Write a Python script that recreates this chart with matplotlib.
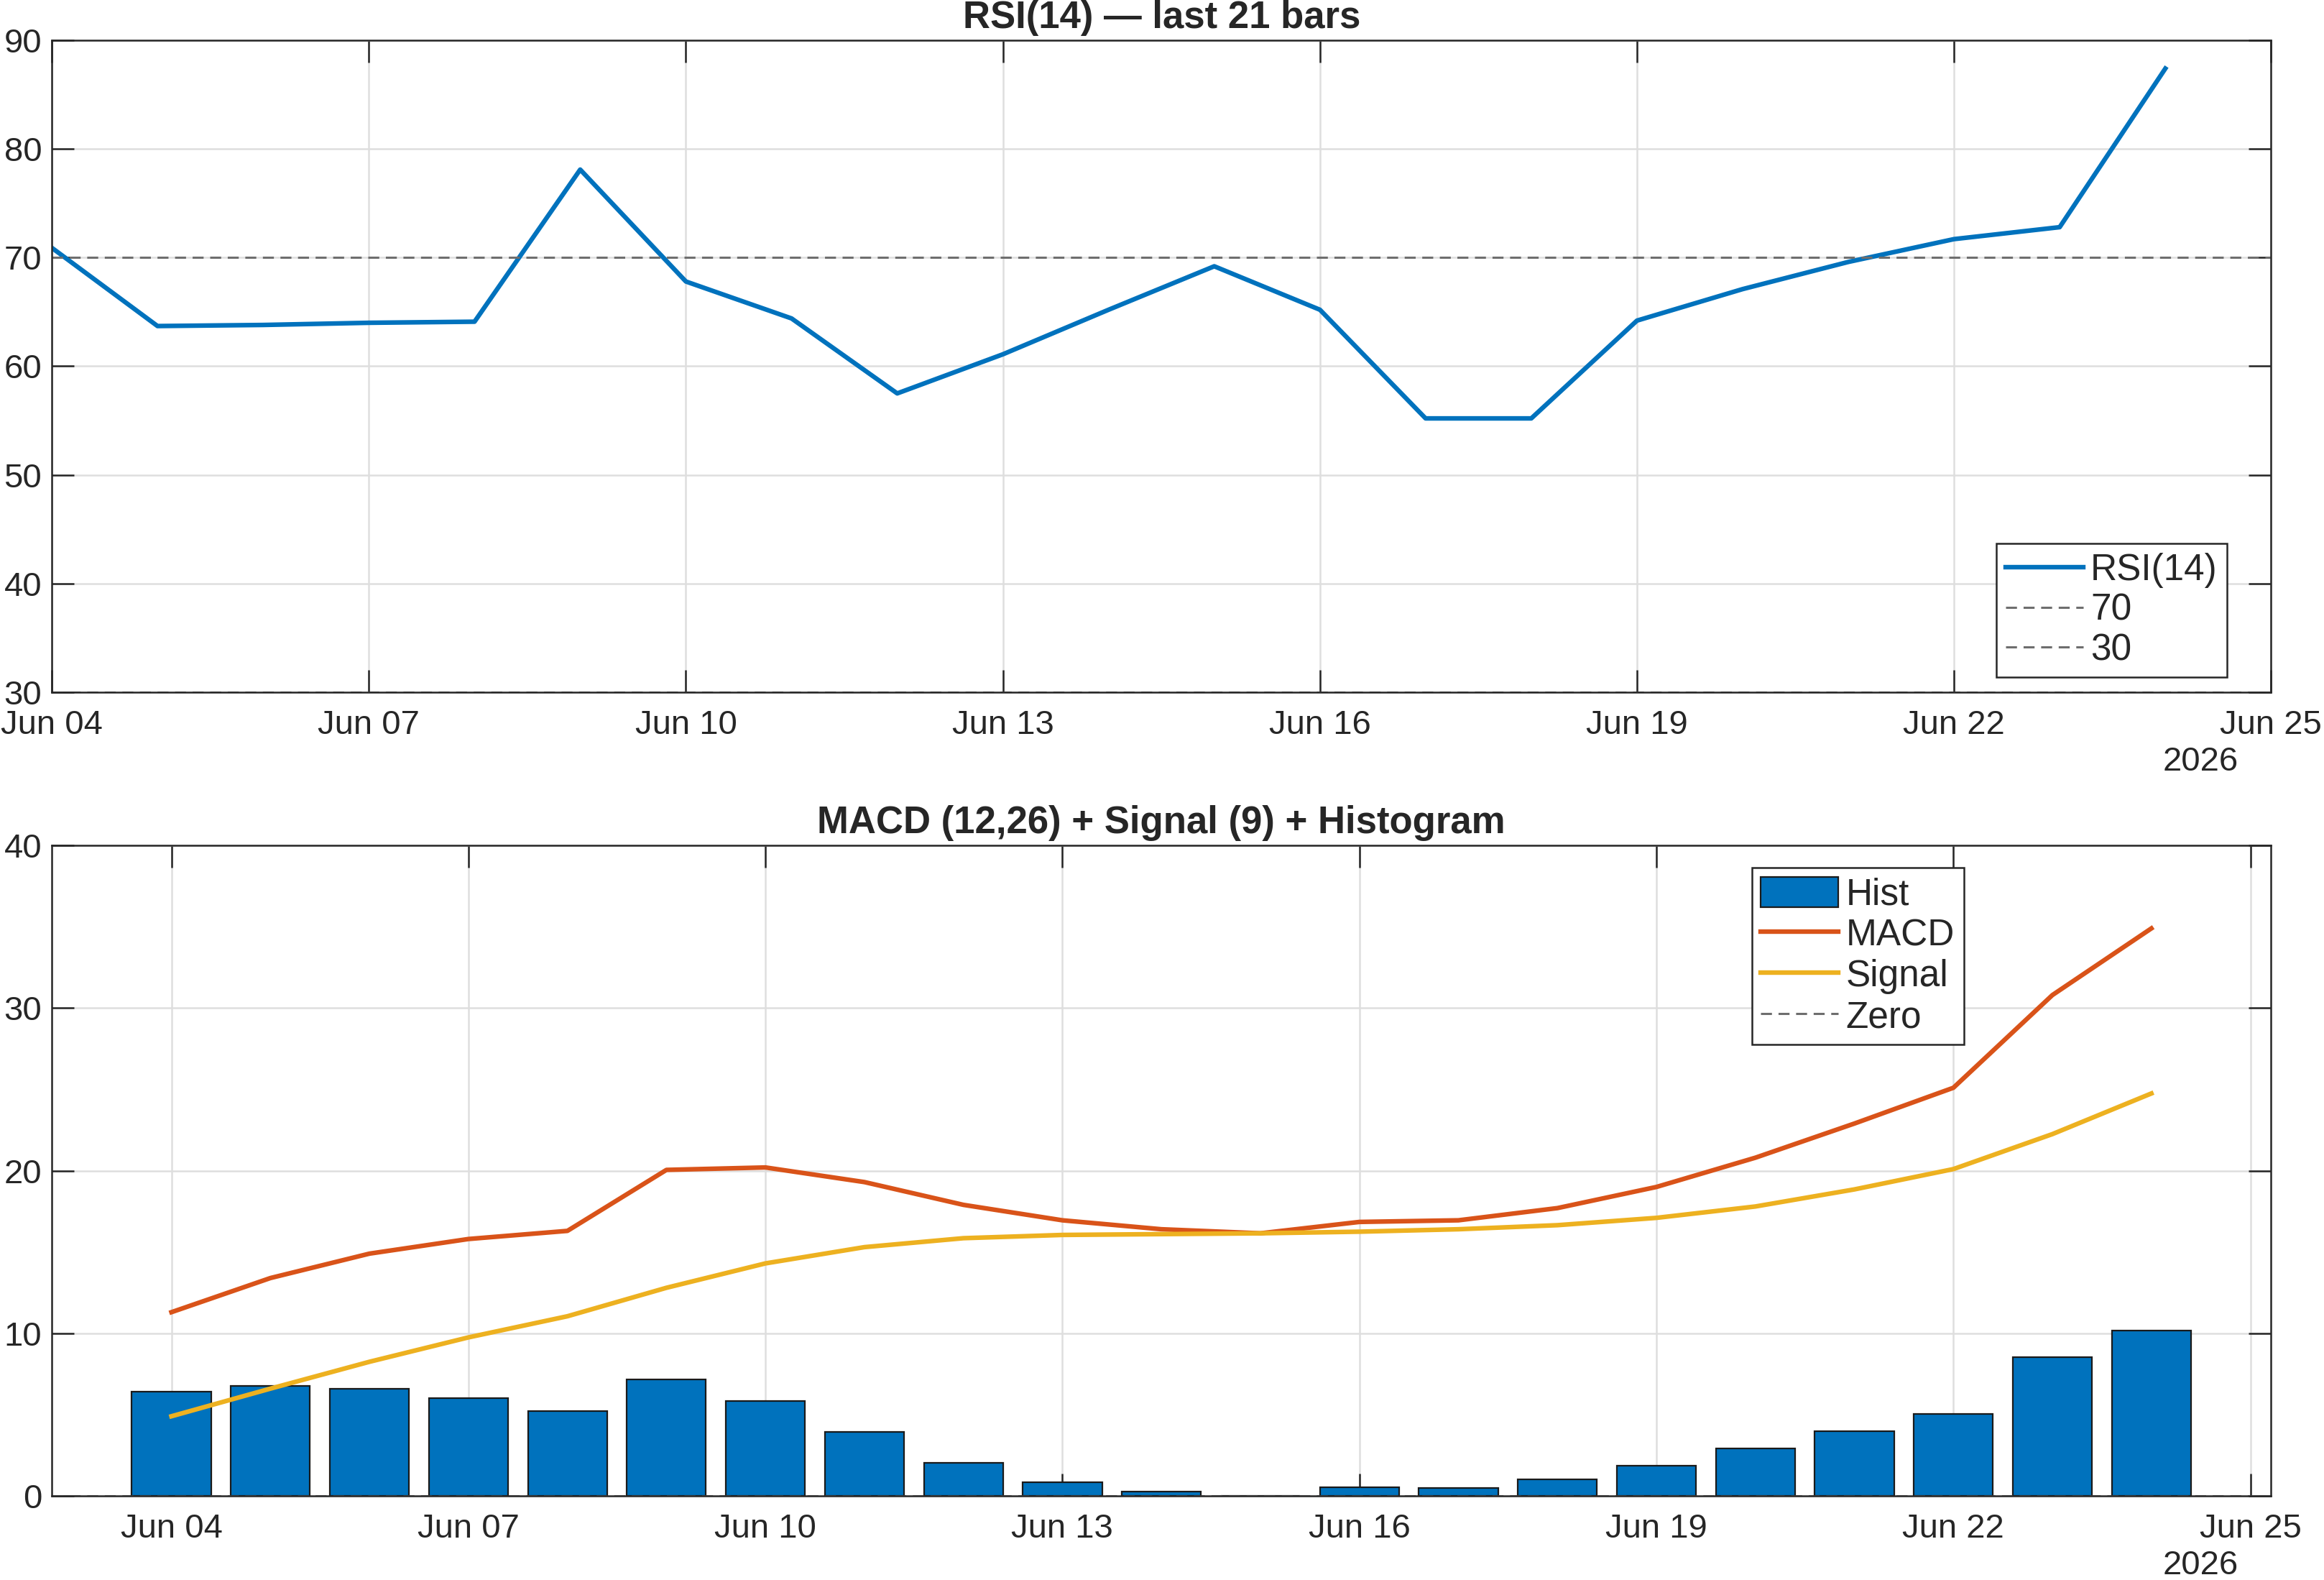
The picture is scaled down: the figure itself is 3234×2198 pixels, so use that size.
import numpy as np
import matplotlib
matplotlib.use("Agg")
import matplotlib.pyplot as plt
import matplotlib.dates as mdates
from datetime import datetime, timedelta

plt.rcParams['font.family'] = ['Liberation Sans', 'DejaVu Sans']
plt.rcParams['text.color'] = '#262626'
plt.rcParams['axes.edgecolor'] = '#262626'
plt.rcParams['xtick.color'] = '#262626'
plt.rcParams['ytick.color'] = '#262626'

# 21 daily bars, Jun 04 .. Jun 24 2026
days = [datetime(2026, 6, 4) + timedelta(days=i) for i in range(21)]

rsi = [70.9, 63.7, 63.8, 64.0, 64.1, 78.1, 67.8, 64.4, 57.5, 61.1, 65.2,
       69.2, 65.2, 55.2, 55.2, 64.2, 67.1, 69.6, 71.7, 72.8, 87.4]

macd = [11.3, 13.4, 14.9, 15.8, 16.3, 20.05, 20.2, 19.3, 17.9, 16.95, 16.4,
        16.15, 16.85, 16.95, 17.7, 19.0, 20.8, 22.9, 25.1, 30.8, 34.9]
signal = [4.9, 6.6, 8.25, 9.75, 11.05, 12.8, 14.3, 15.3, 15.85, 16.05, 16.1,
          16.15, 16.25, 16.4, 16.65, 17.1, 17.8, 18.85, 20.1, 22.25, 24.75]
hist = [6.4, 6.75, 6.6, 6.0, 5.2, 7.15, 5.85, 3.95, 2.05, 0.85, 0.25,
        0.0, 0.55, 0.5, 1.0, 1.85, 2.9, 4.0, 5.05, 8.55, 10.15]

blue = '#0072BD'
orange = '#D95319'
yellow = '#EDB120'
dash_gray = '#6E6E6E'

FS = 17
LFS = 18.5
TFS = 19

fig = plt.figure(figsize=(16.17, 10.99), dpi=200)
ax1 = fig.add_axes([0.0223, 0.5619, 0.9549, 0.4126])
ax2 = fig.add_axes([0.0223, 0.0532, 0.9549, 0.4117])


def style(ax):
    ax.set_facecolor('white')
    ax.grid(True, color='#dedede', linewidth=0.9)
    ax.set_axisbelow(True)
    for s in ax.spines.values():
        s.set_linewidth(0.9)
    ax.tick_params(direction='in', top=True, right=True, length=11,
                   width=0.9, labelsize=FS)
    ax.tick_params(axis='x', pad=8.5)
    ax.tick_params(axis='y', pad=5)
    ax.xaxis.set_major_locator(mdates.DayLocator(bymonthday=[4, 7, 10, 13, 16, 19, 22, 25]))
    ax.xaxis.set_major_formatter(mdates.DateFormatter('%b %d'))
    ax.text(0.9854, -0.107, '2026', transform=ax.transAxes, ha='right',
            va='center', fontsize=FS)


def leg(ax, handles, **kw):
    lg = ax.legend(handles=handles, fontsize=LFS, fancybox=False, framealpha=1,
                   edgecolor='#262626', borderaxespad=0, labelspacing=0.13,
                   handlelength=2.1, handletextpad=0.2, borderpad=0.25, **kw)
    lg.get_frame().set_linewidth(0.9)
    return lg


# RSI panel
l_rsi, = ax1.plot(days, rsi, color=blue, linewidth=2.3, label='RSI(14)')
l70 = ax1.axhline(70, color=dash_gray, linestyle='--', linewidth=1.1, dashes=(5, 3), label='70')
l30 = ax1.axhline(30, color=dash_gray, linestyle='--', linewidth=1.1, dashes=(5, 3), label='30')
ax1.set_ylim(30, 90)
ax1.set_yticks(range(30, 91, 10))
ax1.set_xlim(datetime(2026, 6, 4), datetime(2026, 6, 25))
ax1.set_title('RSI(14) — last 21 bars', fontsize=TFS, fontweight='bold', pad=6)
style(ax1)
leg(ax1, [l_rsi, l70, l30], loc='lower right', bbox_to_anchor=(0.980, 0.023))

# MACD panel
bars = ax2.bar(days, hist, width=0.8, color=blue, edgecolor='#1a1a1a', linewidth=0.8,
               label='Hist')
l_macd, = ax2.plot(days, macd, color=orange, linewidth=2.3, label='MACD')
l_sig, = ax2.plot(days, signal, color=yellow, linewidth=2.3, label='Signal')
l_zero = ax2.axhline(0, color=dash_gray, linestyle='--', linewidth=1.1, dashes=(5, 3), label='Zero')
ax2.set_ylim(0, 40)
ax2.set_yticks(range(0, 41, 10))
ax2.set_xlim(datetime(2026, 6, 2, 19), datetime(2026, 6, 25, 5))
ax2.set_title('MACD (12,26) + Signal (9) + Histogram', fontsize=TFS,
              fontweight='bold', pad=6)
style(ax2)
leg(ax2, [bars, l_macd, l_sig, l_zero], loc='upper left',
    bbox_to_anchor=(0.766, 0.966), handleheight=0.9)

fig.savefig('out.png', dpi=200)
